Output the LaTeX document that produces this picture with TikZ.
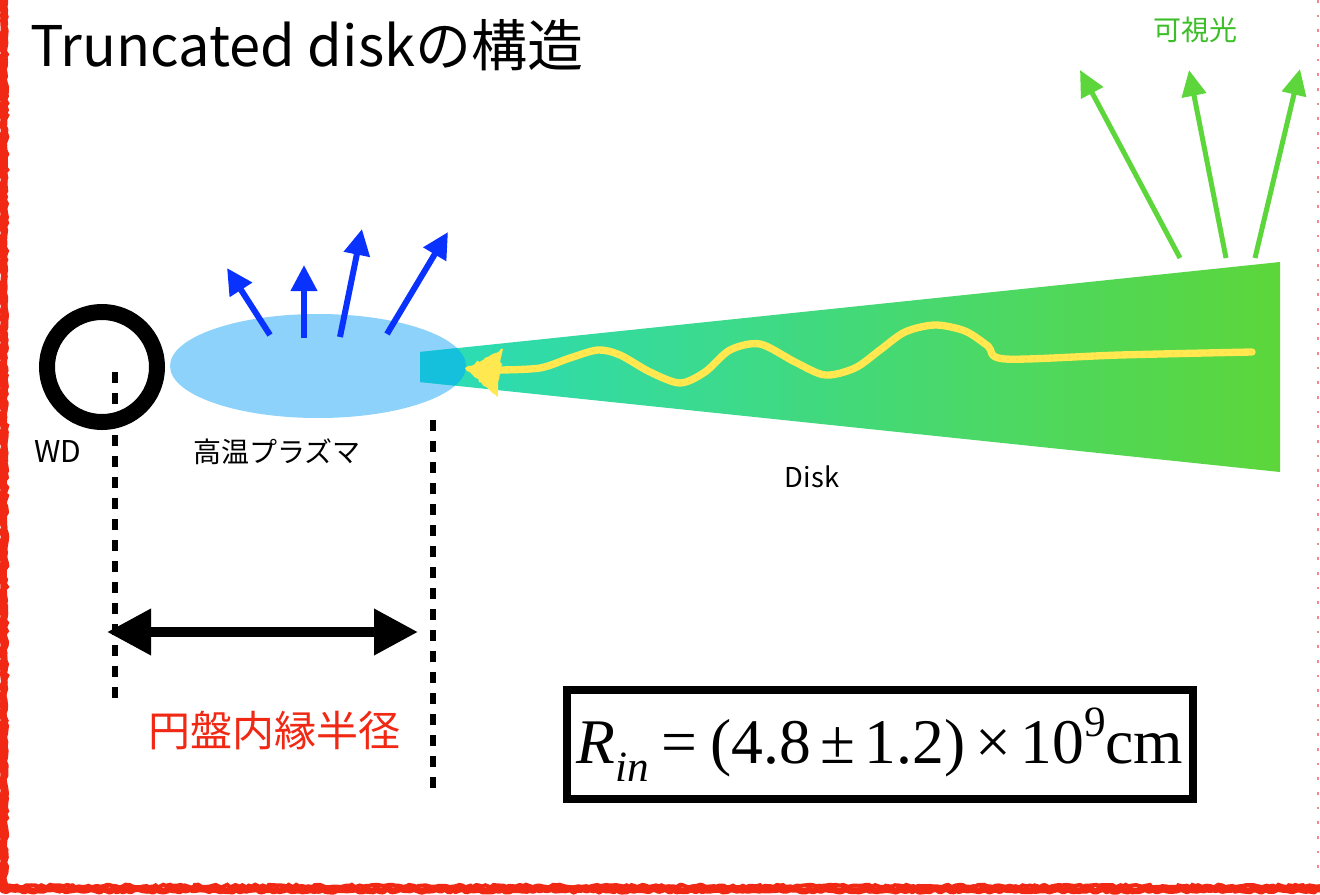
\documentclass[tikz,border=0pt]{standalone}
\usepackage{fontspec}
\setmainfont{Noto Sans CJK JP}
\newfontfamily\eqfont{Liberation Serif}
\usetikzlibrary{arrows.meta,decorations.pathmorphing}

\definecolor{plasma}{RGB}{140,210,250}
\definecolor{rayblue}{RGB}{10,50,255}
\definecolor{raygreen}{RGB}{92,214,58}
\definecolor{labelgreen}{RGB}{60,190,40}
\definecolor{diskL}{RGB}{42,220,185}
\definecolor{diskR}{RGB}{92,214,58}
\definecolor{overlap}{RGB}{20,192,220}
\definecolor{flow}{RGB}{255,232,80}
\definecolor{edgered}{RGB}{240,40,20}

\tikzset{
  px/.style={x=0.75pt,y=-0.75pt},
  bluray/.style={rayblue,line width=4.5pt,-{Triangle[length=19.5pt,width=19pt]}},
  greenray/.style={raygreen,line width=3.75pt,-{Triangle[length=19.5pt,width=18pt]}},
  guide/.style={black,line width=4.5pt,dash pattern=on 8.25pt off 7.5pt},
  rough/.style={decorate,decoration={random steps,segment length=2.5pt,amplitude=1pt}},
}

\begin{document}
\begin{tikzpicture}[px]
\useasboundingbox (0,0) rectangle (1320,895);
\fill[white] (0,0) rectangle (1320,895);

% hand-drawn frame
\draw[edgered,line width=5pt,rough,line join=round] (3,-5) -- (3,890) -- (1325,890);
\draw[edgered,line width=3pt,rough] (6,0) -- (6,886) -- (1320,886);
\draw[edgered!55,line width=1.2pt,dash pattern=on 2pt off 9pt] (1318,0) -- (1318,880);

% title
\node[anchor=base west,font=\fontsize{42}{42}\selectfont,inner sep=0pt] (title) at (30,67) {Truncated diskの構造};

% white dwarf
\draw[line width=12pt] (102,367) circle [radius=55];
\coordinate (wd) at (102,367);
\node[anchor=base west,font=\fontsize{22.5}{22.5}\selectfont,inner sep=0pt] (wdlabel) at (34,462) {WD};

% hot plasma
\fill[plasma] (318,366) ellipse [x radius=148, y radius=52];
\node[font=\fontsize{21}{21}\selectfont,inner sep=0pt] (plasmalabel) at (277,452) {高温プラズマ};

% disk
\shade[left color=diskL,right color=diskR] (420,352) -- (1280,262) -- (1280,472) -- (420,382) -- cycle;
\begin{scope}
  \clip (318,366) ellipse [x radius=148, y radius=52];
  \fill[overlap] (420,352) -- (1280,262) -- (1280,472) -- (420,382) -- cycle;
\end{scope}
\node[anchor=base,font=\fontsize{20.5}{20.5}\selectfont,inner sep=0pt] (disklabel) at (812,487) {Disk};

% inflowing matter
\draw[flow,line width=5.5pt,line cap=round,line join=round]
  plot[smooth,tension=0.5] coordinates {(1252,352) (1120,355) (1005,359) (988,346) (965,331) (935,325) (905,332) (880,350) (855,368) (825,375) (795,362) (760,344) (730,350) (705,372) (680,383) (650,372) (620,355) (598,350) (570,358) (540,368) (500,370)};
\draw[flow!80!orange,line width=1.2pt,dash pattern=on 1.5pt off 5pt,opacity=0.5]
  plot[smooth,tension=0.5] coordinates {(1252,352) (1120,355) (1005,359) (988,346) (965,331) (935,325) (905,332) (880,350) (855,368) (825,375) (795,362) (760,344) (730,350) (705,372) (680,383) (650,372) (620,355) (598,350) (570,358) (540,368) (500,370)};
\fill[flow,rough] (465,368) -- (503,349) -- (497,397) -- cycle;

% X-ray emission from the plasma
\coordinate (b1s) at (270,335); \coordinate (b1e) at (227,268);
\coordinate (b2s) at (304,338); \coordinate (b2e) at (304,265);
\coordinate (b3s) at (340,337); \coordinate (b3e) at (362,229);
\coordinate (b4s) at (387,334); \coordinate (b4e) at (448,232);
\draw[bluray] (b1s) -- (b1e);
\draw[bluray] (b2s) -- (b2e);
\draw[bluray] (b3s) -- (b3e);
\draw[bluray] (b4s) -- (b4e);

% optical emission from the outer disk
\coordinate (g1s) at (1180,258); \coordinate (g1e) at (1080,70);
\coordinate (g2s) at (1226,258); \coordinate (g2e) at (1189,70);
\coordinate (g3s) at (1255,258); \coordinate (g3e) at (1300,69);
\draw[greenray] (g1s) -- (g1e);
\draw[greenray] (g2s) -- (g2e);
\draw[greenray] (g3s) -- (g3e);
\node[labelgreen,font=\fontsize{21}{21}\selectfont,inner sep=0pt] (optlabel) at (1195,30) {可視光};

% inner radius guides
\coordinate (ga) at (115,372); \coordinate (gb) at (115,702);
\coordinate (gc) at (433,420); \coordinate (gd) at (433,795);
\draw[guide] (ga) -- (gb);
\draw[guide] (gc) -- (gd);
\coordinate (ra) at (107,632); \coordinate (rb) at (418,632);
\draw[line width=7.5pt,{Triangle[length=33pt,width=33pt]}-{Triangle[length=33pt,width=33pt]}] (ra) -- (rb);
\node[edgered,font=\fontsize{31.5}{31.5}\selectfont,inner sep=0pt] (rlabel) at (274,731) {円盤内縁半径};

% result
\node[draw,line width=6pt,minimum width=469.5pt,minimum height=81.75pt,inner sep=0pt] (result) at (880,744.5)
  {\resizebox{455pt}{!}{\eqfont\fontsize{50}{50}\selectfont\textit{R}\raisebox{-0.28em}{\fontsize{34}{34}\selectfont\textit{in}}\hspace{0.2em}=\hspace{0.2em}(4.8\hspace{0.15em}±\hspace{0.15em}1.2)\hspace{0.15em}×\hspace{0.15em}10\raisebox{0.42em}{\fontsize{34}{34}\selectfont 9}cm}};
\end{tikzpicture}
\end{document}
